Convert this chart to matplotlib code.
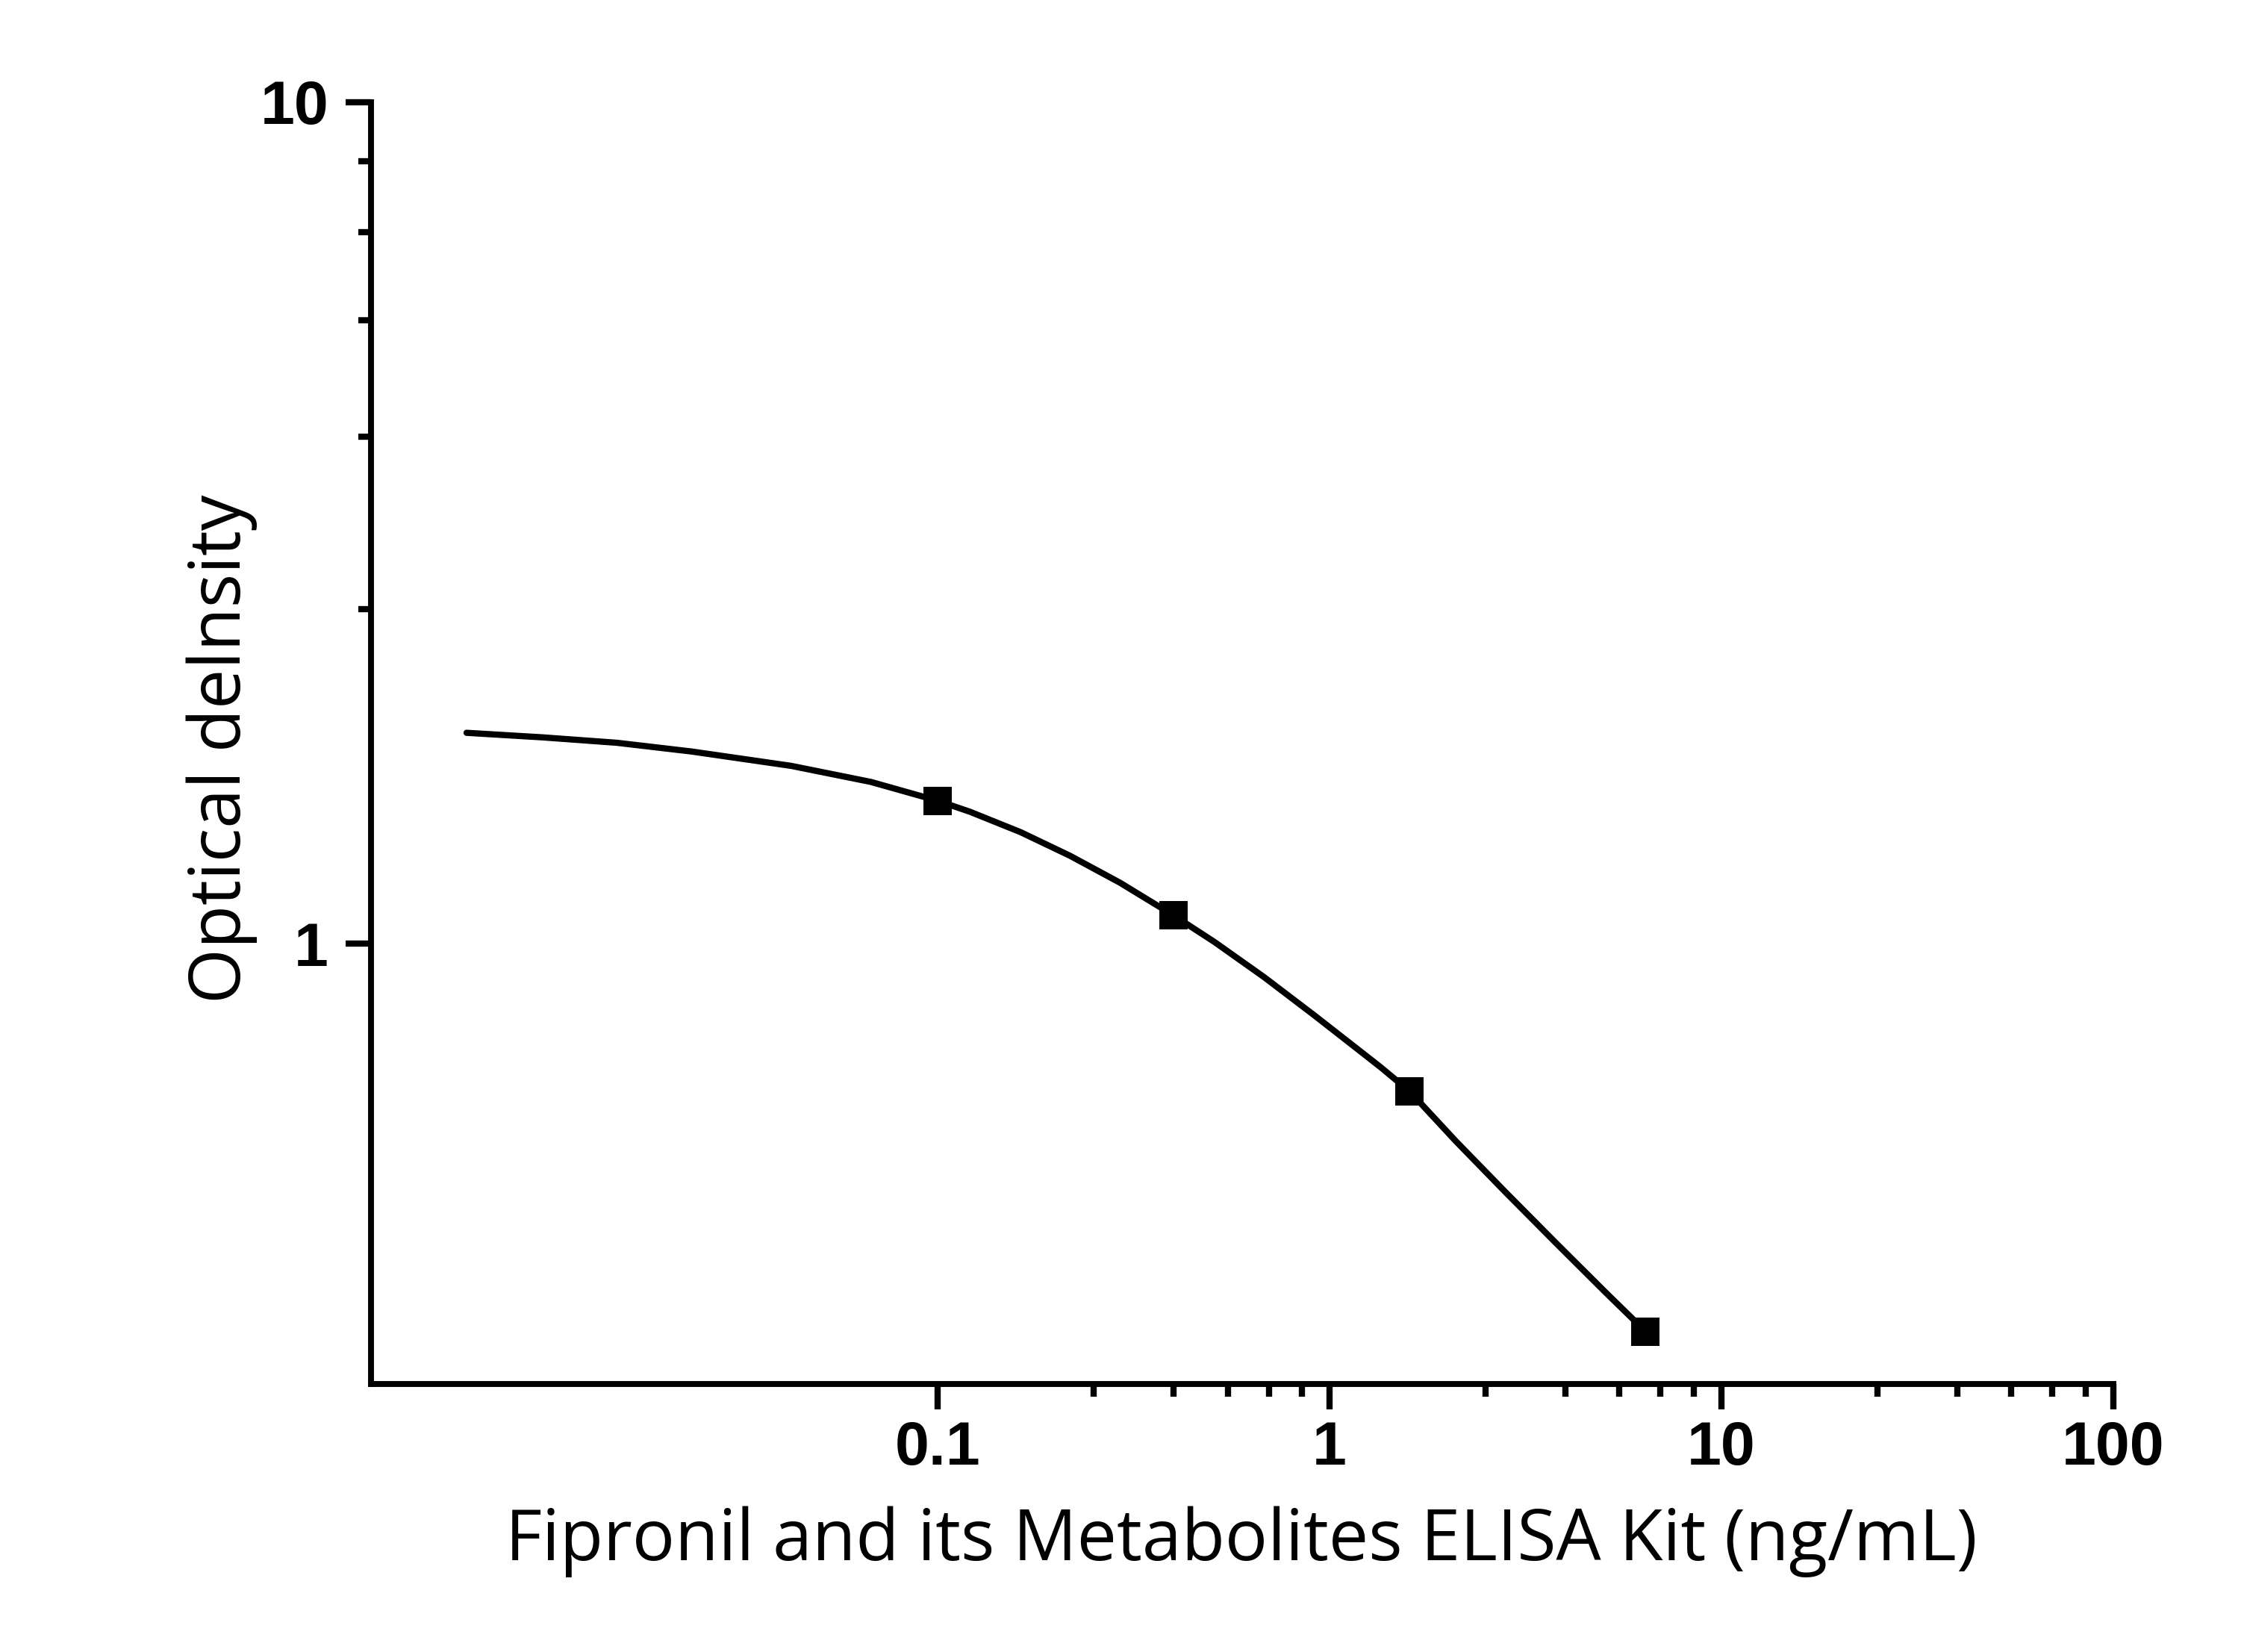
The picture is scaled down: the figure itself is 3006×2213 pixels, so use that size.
import matplotlib
matplotlib.use("Agg")
import matplotlib.pyplot as plt
from matplotlib.ticker import FixedLocator, NullFormatter

# ---- data ----
std_conc = [0.1, 0.4, 1.6, 6.4]
std_od = [1.479, 1.081, 0.668, 0.346]

curve_x = [0.00628, 0.00981, 0.0152, 0.0236, 0.0423, 0.0676, 0.1, 0.121, 0.163,
           0.218, 0.292, 0.400, 0.509, 0.681, 0.913, 1.223, 1.354, 1.602, 2.101,
           2.814, 3.770, 5.050, 6.425]
curve_y = [1.781, 1.759, 1.733, 1.692, 1.627, 1.557, 1.479, 1.435, 1.357,
           1.272, 1.182, 1.081, 1.005, 0.913, 0.823, 0.740, 0.713, 0.668, 0.583,
           0.507, 0.442, 0.386, 0.346]

x_major = [0.1, 1, 10, 100]
x_major_labels = ["0.1", "1", "10", "100"]
x_minor = [0.25, 0.4, 0.55, 0.7, 0.85, 2.5, 4, 5.5, 7, 8.5, 25, 40, 55, 70, 85]
y_major = [1, 10]
y_major_labels = ["1", "10"]
y_minor = [2.5, 4, 5.5, 7, 8.5]

xlabel = "Fipronil and its Metabolites ELISA Kit (ng/mL)"
ylabel = "Optical delnsity"

# ---- figure ----
W, H, DPI = 3006, 2213, 300
fig = plt.figure(figsize=(W / DPI, H / DPI), dpi=DPI)
fig.patch.set_facecolor("white")

def fx(px):
    return px / W

def fy(py):
    return 1 - py / H

left, right, top, bottom = 497.2, 2830.6, 136.7, 1853.9
ax = fig.add_axes([fx(left), fy(bottom), fx(right) - fx(left), fy(top) - fy(bottom)])
ax.set_xscale("log")
ax.set_yscale("log")

ax.plot(curve_x, curve_y, color="black", lw=2.0, solid_capstyle="round",
        solid_joinstyle="round", zorder=2, clip_on=False)
ax.plot(std_conc, std_od, linestyle="none", marker="s", color="black",
        markersize=9.1, markeredgewidth=0, zorder=3, clip_on=False)

ax.set_xlim(0.003585, 100)
ax.set_ylim(0.3, 10)

tick_font = dict(family="Liberation Sans", weight="bold", size=19.8)
ax.xaxis.set_major_locator(FixedLocator(x_major))
ax.xaxis.set_minor_locator(FixedLocator(x_minor))
ax.xaxis.set_minor_formatter(NullFormatter())
ax.set_xticklabels(x_major_labels, fontdict=tick_font)
ax.yaxis.set_major_locator(FixedLocator(y_major))
ax.yaxis.set_minor_locator(FixedLocator(y_minor))
ax.yaxis.set_minor_formatter(NullFormatter())
ax.set_yticklabels(y_major_labels, fontdict=tick_font)

for s in ("top", "right"):
    ax.spines[s].set_visible(False)
for s in ("left", "bottom"):
    ax.spines[s].set_linewidth(1.9)
    ax.spines[s].set_capstyle("projecting")

ax.tick_params(which="major", direction="out", length=8.2, width=2.0, color="black")
ax.tick_params(which="minor", direction="out", length=4.0, width=2.0, color="black")
ax.tick_params(axis="x", which="major", pad=3.5)
ax.tick_params(axis="y", which="major", pad=5.5)

# axis titles
lab_family = ["Open Sans", "DejaVu Sans"]
tx = fig.text(fx((676 + 2650) / 2), fy(2090), xlabel, family=lab_family, size=24,
              ha="center", va="baseline", color="black")
fig.canvas.draw()
r = fig.canvas.get_renderer()
wpx = tx.get_window_extent(r).width
size = 24 * 1974 / wpx
tx.set_fontsize(size)
ty = fig.text(fx(322), fy(1003), ylabel, family=lab_family, size=size,
              rotation=90, rotation_mode="anchor", ha="center", va="baseline",
              color="black")

fig.savefig("out.png", dpi=DPI, facecolor="white")
